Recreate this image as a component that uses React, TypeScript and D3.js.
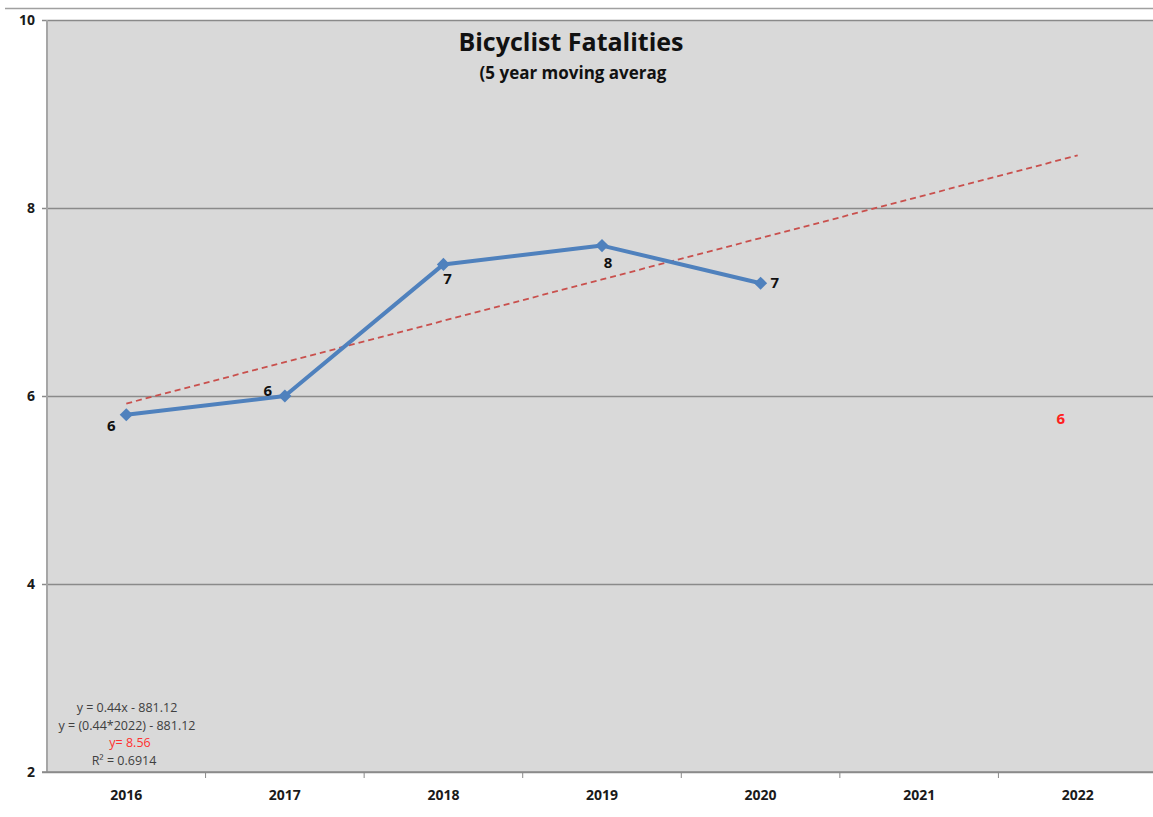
import React from 'react';
import * as d3 from 'd3';

// chart data
const years = ['2016', '2017', '2018', '2019', '2020', '2021', '2022'];
const fatalities = [5.8, 6.0, 7.4, 7.6, 7.2];
const pointLabels = ['6', '6', '7', '8', '7'];
const yTicks = [2, 4, 6, 8, 10];
const forecastLabel = { year: '2022', value: 5.8, text: '6' };
const equationLines = [
  'y = 0.44x - 881.12',
  'y = (0.44*2022) - 881.12',
  'y= 8.56',
  'R² = 0.6914',
];

// label offsets (dx, dy, anchor) per point
const labelPlacement = [
  { dx: -15, dy: 16, anchor: 'middle' },
  { dx: -17, dy: 0, anchor: 'middle' },
  { dx: 4, dy: 20, anchor: 'middle' },
  { dx: 6, dy: 22, anchor: 'middle' },
  { dx: 10, dy: 5, anchor: 'start' },
];

const W = 1153;
const H = 817;
const margin = { top: 20, right: -4, bottom: 45, left: 47 };
const FONT = 'Open Sans, Lato, sans-serif';

const BicyclistChart: React.FC = () => {
  const svgRef = React.useRef<SVGSVGElement>(null);

  React.useEffect(() => {
    const svgEl = d3.select(svgRef.current);
    svgEl.selectAll('*').remove();

    const x = d3
      .scaleBand()
      .domain(years)
      .range([margin.left, W - margin.right])
      .padding(0);
    const y = d3
      .scaleLinear()
      .domain([2, 10])
      .range([H - margin.bottom, margin.top]);
    const cx = (yr: string) => (x(yr) as number) + x.bandwidth() / 2;

    // top rule
    svgEl
      .append('line')
      .attr('x1', 5)
      .attr('x2', W)
      .attr('y1', 8.5)
      .attr('y2', 8.5)
      .attr('stroke', '#a0a0a0')
      .attr('stroke-width', 1.5);

    // plot area
    svgEl
      .append('rect')
      .attr('x', margin.left)
      .attr('y', margin.top)
      .attr('width', W - margin.right - margin.left)
      .attr('height', y(2) - y(10))
      .attr('fill', '#d9d9d9');

    // Y grid + labels
    const yAxis = d3
      .axisLeft(y)
      .tickValues(yTicks)
      .tickSize(-(W - margin.right - margin.left))
      .tickPadding(12)
      .tickFormat((v) => `${v}`);
    const yG = svgEl
      .append('g')
      .attr('transform', `translate(${margin.left},0)`)
      .call(yAxis);
    yG.select('.domain').remove();
    yG.selectAll('line')
      .attr('stroke', '#8a8a8a')
      .attr('stroke-width', 1.5)
      .attr('x1', -5);
    yG.selectAll('text')
      .attr('font-family', FONT)
      .attr('font-weight', 'bold')
      .attr('font-size', 14)
      .attr('fill', '#1a1a1a');

    // left axis line
    svgEl
      .append('line')
      .attr('x1', margin.left)
      .attr('x2', margin.left)
      .attr('y1', y(10))
      .attr('y2', y(2))
      .attr('stroke', '#a6a6a6')
      .attr('stroke-width', 2);

    // X axis
    const xG = svgEl
      .append('g')
      .attr('transform', `translate(0,${y(2)})`);
    xG.append('line')
      .attr('x1', margin.left - 5)
      .attr('x2', W)
      .attr('stroke', '#8a8a8a')
      .attr('stroke-width', 1.5);
    xG.selectAll('.tick')
      .data(years.slice(1))
      .enter()
      .append('line')
      .attr('x1', (d) => x(d) as number)
      .attr('x2', (d) => x(d) as number)
      .attr('y1', 0)
      .attr('y2', 6)
      .attr('stroke', '#8a8a8a');
    xG.selectAll('.lbl')
      .data(years)
      .enter()
      .append('text')
      .attr('x', (d) => cx(d))
      .attr('y', 28)
      .attr('text-anchor', 'middle')
      .attr('font-family', FONT)
      .attr('font-weight', 'bold')
      .attr('font-size', 14)
      .attr('fill', '#1a1a1a')
      .text((d) => d);

    // trendline (least squares on the series, extended to last year)
    const xs = fatalities.map((_, i) => i + 1);
    const mx = d3.mean(xs) as number;
    const my = d3.mean(fatalities) as number;
    const slope =
      d3.sum(xs, (v, i) => (v - mx) * (fatalities[i] - my)) /
      d3.sum(xs, (v) => (v - mx) ** 2);
    const intercept = my - slope * mx;
    const trend = years.map((yr, i) => [cx(yr), y(intercept + slope * (i + 1))]);
    svgEl
      .append('path')
      .attr('d', d3.line()(trend as [number, number][]))
      .attr('fill', 'none')
      .attr('stroke', '#c9504d')
      .attr('stroke-width', 1.8)
      .attr('stroke-dasharray', '6,4');

    // data line
    const pts = fatalities.map((v, i) => [cx(years[i]), y(v)] as [number, number]);
    svgEl
      .append('path')
      .attr('d', d3.line()(pts))
      .attr('fill', 'none')
      .attr('stroke', '#4f81bd')
      .attr('stroke-width', 4)
      .attr('stroke-linejoin', 'round');
    svgEl
      .selectAll('.marker')
      .data(pts)
      .enter()
      .append('path')
      .attr('d', d3.symbol().type(d3.symbolDiamond2).size(110)())
      .attr('transform', (d) => `translate(${d[0]},${d[1]})`)
      .attr('fill', '#4f81bd');

    // point labels
    svgEl
      .selectAll('.plabel')
      .data(pts)
      .enter()
      .append('text')
      .attr('x', (d, i) => d[0] + labelPlacement[i].dx)
      .attr('y', (d, i) => d[1] + labelPlacement[i].dy)
      .attr('text-anchor', (d, i) => labelPlacement[i].anchor)
      .attr('font-family', FONT)
      .attr('font-weight', 'bold')
      .attr('font-size', 15)
      .attr('fill', '#111')
      .text((d, i) => pointLabels[i]);

    // forecast label in red
    svgEl
      .append('text')
      .attr('x', cx(forecastLabel.year) - 17)
      .attr('y', y(forecastLabel.value) + 9)
      .attr('text-anchor', 'middle')
      .attr('font-family', FONT)
      .attr('font-weight', 'bold')
      .attr('font-size', 15)
      .attr('fill', '#ff2020')
      .text(forecastLabel.text);

    // title
    svgEl
      .append('text')
      .attr('x', 571)
      .attr('y', 51)
      .attr('text-anchor', 'middle')
      .attr('font-family', FONT)
      .attr('font-weight', 'bold')
      .attr('font-size', 25)
      .attr('fill', '#111')
      .text('Bicyclist Fatalities');
    svgEl
      .append('text')
      .attr('x', 573)
      .attr('y', 79)
      .attr('text-anchor', 'middle')
      .attr('font-family', FONT)
      .attr('font-weight', 'bold')
      .attr('font-size', 17)
      .attr('fill', '#111')
      .text('(5 year moving averag');

    // equation block
    const eqX = [127, 127, 130, 124];
    svgEl
      .selectAll('.eq')
      .data(equationLines)
      .enter()
      .append('text')
      .attr('x', (d, i) => eqX[i])
      .attr('y', (d, i) => 712 + i * 17.5)
      .attr('text-anchor', 'middle')
      .attr('font-family', FONT)
      .attr('font-size', 12.5)
      .attr('fill', (d, i) => (i === 2 ? '#ff3030' : '#404040'))
      .text((d) => d);
  }, []);

  return (
    <svg
      ref={svgRef}
      width={W}
      height={H}
      style={{ position: 'absolute', left: 0, top: 0, background: '#fff' }}
    />
  );
};

export default function App() {
  return <BicyclistChart />;
}
